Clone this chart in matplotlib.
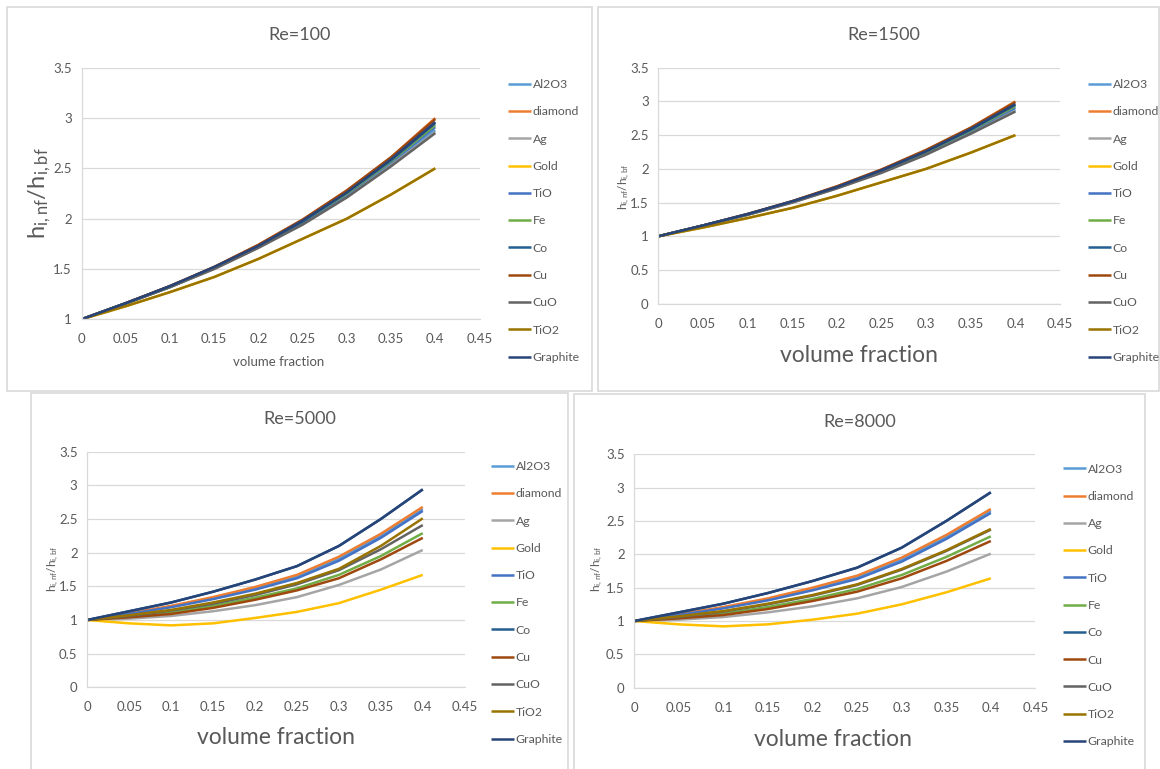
import matplotlib.pyplot as plt
from matplotlib.patches import Rectangle

plt.rcParams['font.family'] = ['Lato', 'DejaVu Sans']
plt.rcParams['mathtext.default'] = 'regular'

# volume fraction of nanoparticles
vol_fraction = [0, 0.05, 0.1, 0.15, 0.2, 0.25, 0.3, 0.35, 0.4]

materials = ['Al2O3', 'diamond', 'Ag', 'Gold', 'TiO', 'Fe', 'Co', 'Cu', 'CuO', 'TiO2', 'Graphite']

# h_i,nf / h_i,bf for each Reynolds number
re100 = {
    'Al2O3':    [1, 1.16, 1.32, 1.51, 1.72, 1.96, 2.23, 2.54, 2.88],
    'diamond':  [1, 1.16, 1.33, 1.52, 1.74, 1.99, 2.28, 2.61, 3.00],
    'Ag':       [1, 1.155, 1.32, 1.50, 1.71, 1.95, 2.22, 2.53, 2.86],
    'Gold':     [1, 1.13, 1.27, 1.42, 1.60, 1.80, 2.00, 2.24, 2.50],
    'TiO':      [1, 1.16, 1.32, 1.51, 1.72, 1.96, 2.24, 2.56, 2.91],
    'Fe':       [1, 1.16, 1.32, 1.51, 1.73, 1.97, 2.25, 2.57, 2.93],
    'Co':       [1, 1.16, 1.33, 1.51, 1.73, 1.97, 2.26, 2.58, 2.95],
    'Cu':       [1, 1.16, 1.33, 1.52, 1.74, 1.99, 2.28, 2.61, 2.99],
    'CuO':      [1, 1.155, 1.32, 1.50, 1.71, 1.94, 2.21, 2.52, 2.85],
    'TiO2':     [1, 1.13, 1.27, 1.42, 1.60, 1.80, 2.00, 2.24, 2.50],
    'Graphite': [1, 1.16, 1.33, 1.52, 1.73, 1.98, 2.26, 2.59, 2.96],
}

re1500 = {
    'Al2O3':    [1, 1.16, 1.32, 1.51, 1.72, 1.96, 2.23, 2.54, 2.88],
    'diamond':  [1, 1.16, 1.33, 1.52, 1.74, 1.99, 2.28, 2.61, 3.00],
    'Ag':       [1, 1.155, 1.32, 1.50, 1.71, 1.95, 2.22, 2.53, 2.86],
    'Gold':     [1, 1.13, 1.27, 1.42, 1.60, 1.80, 2.00, 2.24, 2.50],
    'TiO':      [1, 1.16, 1.32, 1.51, 1.72, 1.96, 2.24, 2.56, 2.91],
    'Fe':       [1, 1.16, 1.32, 1.51, 1.73, 1.97, 2.25, 2.57, 2.93],
    'Co':       [1, 1.16, 1.33, 1.51, 1.73, 1.97, 2.26, 2.58, 2.95],
    'Cu':       [1, 1.16, 1.33, 1.52, 1.74, 1.99, 2.28, 2.61, 2.99],
    'CuO':      [1, 1.155, 1.32, 1.50, 1.71, 1.94, 2.21, 2.52, 2.85],
    'TiO2':     [1, 1.13, 1.27, 1.42, 1.60, 1.80, 2.00, 2.24, 2.50],
    'Graphite': [1, 1.16, 1.33, 1.52, 1.73, 1.98, 2.26, 2.59, 2.96],
}

re5000 = {
    'Al2O3':    [1, 1.09, 1.20, 1.32, 1.47, 1.64, 1.91, 2.25, 2.65],
    'diamond':  [1, 1.10, 1.21, 1.34, 1.49, 1.67, 1.94, 2.28, 2.68],
    'Ag':       [1, 1.02, 1.06, 1.13, 1.22, 1.34, 1.52, 1.75, 2.04],
    'Gold':     [1, 0.95, 0.92, 0.95, 1.03, 1.12, 1.25, 1.45, 1.67],
    'TiO':      [1, 1.09, 1.19, 1.31, 1.45, 1.62, 1.88, 2.22, 2.62],
    'Fe':       [1, 1.05, 1.11, 1.21, 1.33, 1.47, 1.67, 1.95, 2.29],
    'Co':       [1, 1.13, 1.26, 1.42, 1.60, 1.80, 2.10, 2.50, 2.94],
    'Cu':       [1, 1.04, 1.09, 1.18, 1.30, 1.44, 1.62, 1.90, 2.22],
    'CuO':      [1, 1.06, 1.14, 1.24, 1.37, 1.53, 1.74, 2.05, 2.41],
    'TiO2':     [1, 1.07, 1.15, 1.26, 1.39, 1.55, 1.76, 2.10, 2.51],
    'Graphite': [1, 1.13, 1.26, 1.42, 1.60, 1.80, 2.10, 2.50, 2.94],
}

re8000 = {
    'Al2O3':    [1, 1.09, 1.20, 1.32, 1.47, 1.65, 1.92, 2.26, 2.65],
    'diamond':  [1, 1.10, 1.21, 1.34, 1.50, 1.68, 1.95, 2.29, 2.68],
    'Ag':       [1, 1.02, 1.06, 1.13, 1.22, 1.34, 1.51, 1.74, 2.01],
    'Gold':     [1, 0.95, 0.92, 0.95, 1.02, 1.11, 1.25, 1.43, 1.64],
    'TiO':      [1, 1.09, 1.19, 1.31, 1.46, 1.63, 1.89, 2.23, 2.62],
    'Fe':       [1, 1.05, 1.11, 1.21, 1.33, 1.48, 1.69, 1.96, 2.27],
    'Co':       [1, 1.13, 1.26, 1.42, 1.60, 1.80, 2.10, 2.50, 2.93],
    'Cu':       [1, 1.04, 1.09, 1.18, 1.30, 1.44, 1.64, 1.90, 2.20],
    'CuO':      [1, 1.06, 1.14, 1.25, 1.38, 1.54, 1.77, 2.05, 2.37],
    'TiO2':     [1, 1.07, 1.15, 1.26, 1.39, 1.55, 1.78, 2.06, 2.38],
    'Graphite': [1, 1.13, 1.26, 1.42, 1.60, 1.80, 2.10, 2.50, 2.93],
}

x_ticks = [0, 0.05, 0.1, 0.15, 0.2, 0.25, 0.3, 0.35, 0.4, 0.45]
x_tick_labels = ['0', '0.05', '0.1', '0.15', '0.2', '0.25', '0.3', '0.35', '0.4', '0.45']
y_ticks = [0, 0.5, 1, 1.5, 2, 2.5, 3, 3.5]
y_tick_labels = ['0', '0.5', '1', '1.5', '2', '2.5', '3', '3.5']

colors = {
    'Al2O3': '#5B9BD5', 'diamond': '#ED7D31', 'Ag': '#A5A5A5', 'Gold': '#FFC000',
    'TiO': '#4472C4', 'Fe': '#70AD47', 'Co': '#255E91', 'Cu': '#9E480E',
    'CuO': '#636363', 'TiO2': '#997300', 'Graphite': '#264478',
}

TXT = '#595959'
GRID = '#D9D9D9'
W, H = 1160, 769


def fx(px):
    return px / W


def fy(py):
    return 1 - py / H


fig = plt.figure(figsize=(W / 100, H / 100), dpi=100)

# (title, data, ymin, frame, plot area, legend center, title pos, xlabel, ylabel)
panels = [
    ('Re=100', re100, 1, (7, 7, 592, 391), (81.5, 67.7, 479.5, 319.3), (508, 221),
     (300, 35), (279, 362, 9.5), (40, 193, 17)),
    ('Re=1500', re1500, 0, (598, 7, 1159, 391), (658.4, 67.7, 1060, 303.7), (1088, 221),
     (884, 35), (859, 355, 16.5), (624.5, 187, 8.5)),
    ('Re=5000', re5000, 0, (31, 393, 568, 780), (87.3, 451.7, 464.7, 687.3), (491, 603),
     (300, 419), (276, 738, 16.5), (53, 569, 8.5)),
    ('Re=8000', re8000, 0, (574, 394, 1145, 780), (634.3, 454.3, 1035.4, 687.7), (1063, 605.5),
     (860, 422), (833, 739, 16.5), (597, 569, 8.5)),
]

for title, data, ymin, frame, area, leg, tpos, xl, yl in panels:
    l, t, r, b = frame
    fig.add_artist(Rectangle((fx(l), fy(b)), (r - l) / W, (b - t) / H,
                             transform=fig.transFigure, fill=False,
                             ec=GRID, lw=1.2))

    l, t, r, b = area
    ax = fig.add_axes([fx(l), fy(b), (r - l) / W, (b - t) / H])
    for m in materials:
        ax.plot(vol_fraction, data[m], color=colors[m], lw=1.8, label=m,
                solid_capstyle='butt', solid_joinstyle='round')

    ax.set_xlim(0, 0.45)
    ax.set_ylim(ymin, 3.5)
    ax.set_xticks(x_ticks)
    ax.set_xticklabels(x_tick_labels)
    yt = [v for v in y_ticks if v >= ymin]
    ax.set_yticks(yt)
    ax.set_yticklabels(y_tick_labels[y_ticks.index(yt[0]):])
    ax.tick_params(length=0, labelsize=9.5, labelcolor=TXT)
    ax.tick_params(axis='x', pad=10)
    ax.tick_params(axis='y', pad=7)
    ax.grid(axis='y', color=GRID, lw=0.9)
    ax.set_axisbelow(True)
    for s in ['top', 'right']:
        ax.spines[s].set_visible(False)
    for s in ['left', 'bottom']:
        ax.spines[s].set_color(GRID)
        ax.spines[s].set_linewidth(0.9)

    handles, labels = ax.get_legend_handles_labels()
    fig.legend(handles, labels, loc='center left',
               bbox_to_anchor=(fx(leg[0]), fy(leg[1])),
               bbox_transform=fig.transFigure, frameon=False,
               fontsize=8.8, labelcolor=TXT, handlelength=1.9,
               handletextpad=0.12, labelspacing=1.33, borderpad=0,
               borderaxespad=0)

    fig.text(fx(tpos[0]), fy(tpos[1]), title, ha='center', va='center',
             fontsize=13, color=TXT)
    fig.text(fx(xl[0]), fy(xl[1]), 'volume fraction', ha='center',
             va='center', fontsize=xl[2], color=TXT)
    fig.text(fx(yl[0]), fy(yl[1]), '$h_{i,nf}/h_{i,bf}$', ha='center',
             va='center', rotation=90, fontsize=yl[2], color=TXT)

fig.savefig('out.png', dpi=100)
